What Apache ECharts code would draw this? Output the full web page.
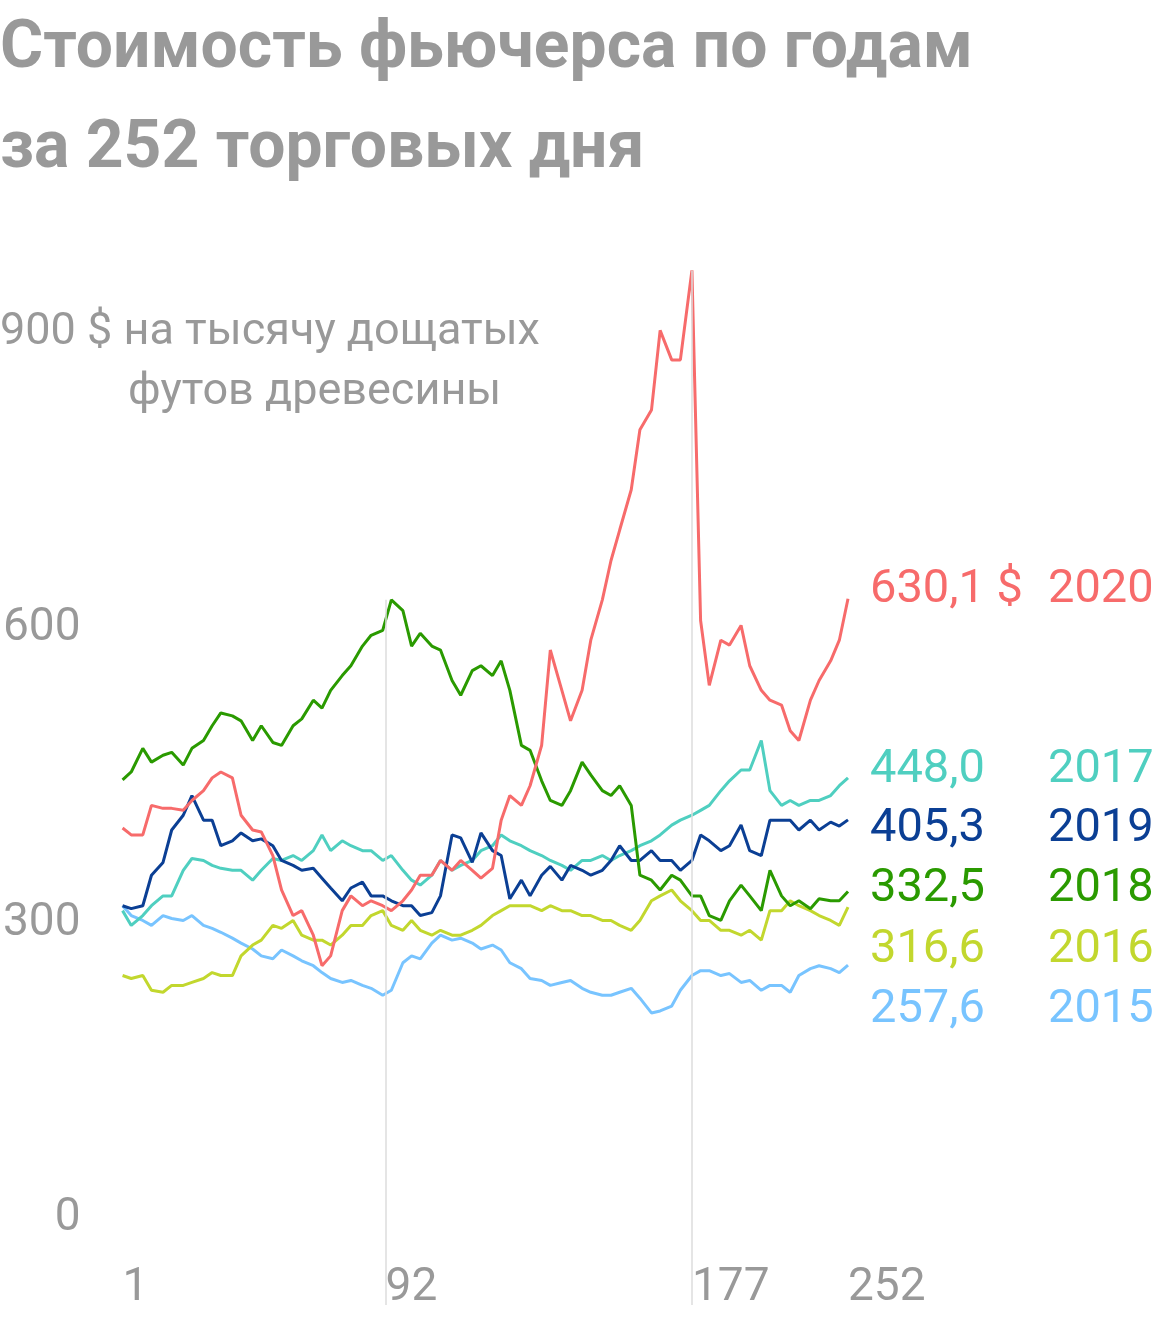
<!DOCTYPE html>
<html><head><meta charset="utf-8">
<script src="https://cdn.jsdelivr.net/npm/echarts@6/dist/echarts.min.js"></script>
<style>html,body{margin:0;padding:0;background:#fff}#c{width:1160px;height:1320px}</style>
</head><body><div id="c"></div>
<script>
const days=[1,4,8,11,15,18,22,25,29,32,35,39,42,46,49,53,56,60,63,67,70,73,77,80,84,87,91,94,98,101,104,108,111,115,118,122,125,129,132,135,139,142,146,149,153,156,160,163,167,170,173,177,180,184,187,191,194,198,201,204,208,211,215,218,222,225,229,232,235,239,242,246,249,252];
const xTickDays=[1,92,198,252];
const xTickLabels=['1','92','177','252'];
const yTicks=[0,300,600];
const s2020=[397,390,390,420,417,417,415,425,435,448,454,448,410,395,393,369,334,308,313,288,257,267,313,328,318,323,318,313,323,334,349,349,364,354,364,354,346,356,405,430,420,440,481,578,537,506,537,588,629,669,700,741,802,822,903,873,873,964,608,542,588,583,603,562,537,527,522,496,486,527,547,567,588,630.1];
const s2017=[313,298,308,318,328,328,354,366,364,359,356,354,354,344,354,366,364,369,364,374,390,374,384,379,374,374,364,369,354,344,339,349,364,354,359,364,374,379,390,384,379,374,369,364,359,354,364,364,369,364,369,374,379,384,390,400,405,410,415,420,435,445,456,456,486,435,420,425,420,425,425,430,440,448];
const s2019=[318,315,318,349,362,395,410,430,405,405,379,384,392,384,386,379,364,359,354,356,346,336,323,336,342,328,328,323,318,318,308,311,328,390,387,362,392,374,369,325,344,328,349,358,344,359,354,349,354,364,379,364,364,374,364,364,354,364,390,384,374,379,400,374,369,405,405,405,395,405,395,403,399,405.3];
const s2018=[446,454,478,464,471,474,461,478,486,501,514,511,506,486,501,484,481,501,508,527,519,537,552,562,582,593,598,629,618,582,595,582,578,547,532,557,562,552,567,537,481,476,445,425,420,435,464,451,435,430,440,420,349,344,334,349,344,328,328,308,303,323,339,328,313,354,328,318,323,315,325,323,323,332.5];
const s2016=[247,244,247,232,230,237,237,240,244,250,247,247,267,278,283,298,295,303,288,283,283,278,288,298,298,308,313,298,293,303,293,288,293,288,288,293,298,308,313,318,318,318,313,318,313,313,308,308,303,303,298,293,303,323,328,334,323,313,303,303,293,293,288,293,283,313,313,323,318,313,308,303,298,316.6];
const s2015=[318,308,303,298,308,305,303,308,298,295,291,285,280,274,267,264,273,267,262,257,250,244,240,242,237,234,227,232,260,267,264,280,288,283,285,280,274,278,273,260,254,244,242,237,240,242,234,230,227,227,230,234,224,209,211,216,232,247,252,252,247,249,240,242,232,237,237,230,247,254,257,254,250,257.6];
const years=['2020','2017','2019','2018','2016','2015'];
const endLabels=['630,1 $','448,0','405,3','332,5','316,6','257,6'];
const colors=['#f76b6b','#4fcfc0','#0b3f94','#2a9a00','#c2d72e','#78c4ff'];
const all=[s2020,s2017,s2019,s2018,s2016,s2015];
const labelY=[593,773,832,892,953,1013];
const F='Roboto, "Noto Sans", sans-serif';
const chart=echarts.init(document.getElementById('c'));
const order=[5,4,1,2,3,0];
const series=order.map(i=>({type:'line',name:years[i],showSymbol:false,
  data:days.map((d,k)=>[d,all[i][k]]),lineStyle:{width:3,color:colors[i]},itemStyle:{color:colors[i]},z:3,animation:false}));
series.push({type:'line',data:[],markLine:{silent:true,symbol:'none',label:{show:false},lineStyle:{color:'#ddd',width:1.5,type:'solid'},
  data:[[{coord:[92,-88]},{coord:[92,629]}],[{coord:[198,-88]},{coord:[198,964]}]]},z:1});
const graphic=[
 {type:'text',left:0,top:0,style:{text:'Стоимость фьючерса по годам\nза 252 торговых дня',font:'bold 66px '+F,fill:'#999',lineHeight:100}},
 {type:'text',left:0,top:310,style:{text:'900 $ на тысячу дощатых',font:'45px '+F,fill:'#999'}},
 {type:'text',left:128,top:370,style:{text:'футов древесины',font:'45px '+F,fill:'#999'}}
];
years.forEach((y,i)=>{
 graphic.push({type:'text',left:870,top:labelY[i]-26,style:{text:endLabels[i],font:'47px '+F,fill:colors[i]}});
 graphic.push({type:'text',left:1048,top:labelY[i]-26,style:{text:y,font:'47px '+F,fill:colors[i]}});
});
chart.setOption({
 animation:false,
 grid:{left:120,right:312,top:235,bottom:15},
 xAxis:{type:'value',min:1,max:252,axisLine:{show:false},axisTick:{show:false},splitLine:{show:false},
  axisLabel:{customValues:xTickDays,formatter:v=>xTickLabels[xTickDays.indexOf(v)],margin:-40,align:'left',fontSize:46,color:'#999',fontFamily:F}},
 yAxis:{type:'value',min:-88,max:1000,axisLine:{show:false},axisTick:{show:false},splitLine:{show:false},
  axisLabel:{customValues:yTicks,margin:42,fontSize:46,color:'#999',fontFamily:F}},
 graphic:graphic,
 series:series
});
</script></body></html>
